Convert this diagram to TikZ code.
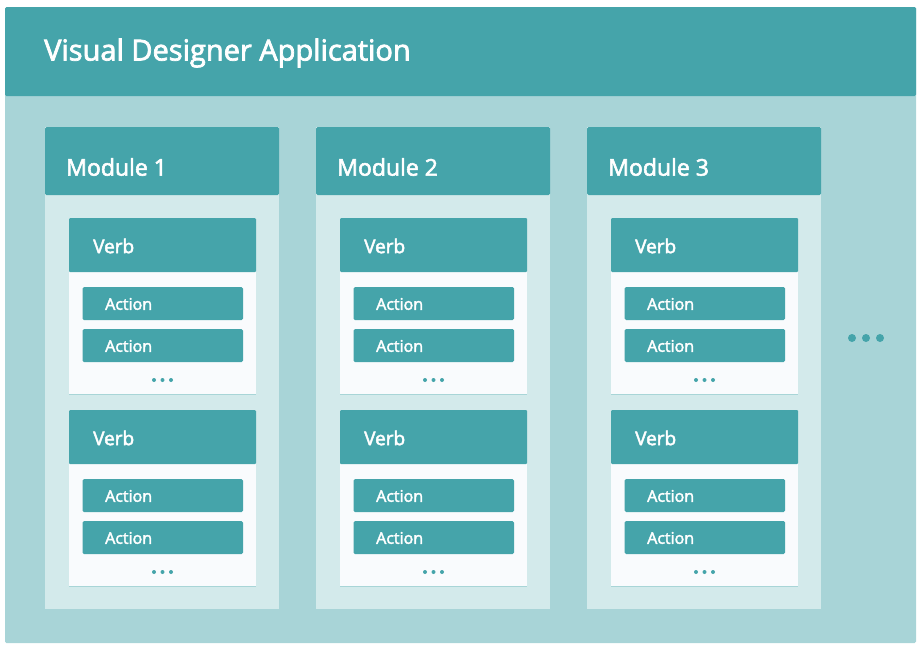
\documentclass[tikz,border=0pt]{standalone}
\usepackage{fontspec}
\setmainfont{Open Sans}[FakeBold=2.5]
\definecolor{teal}{HTML}{45A4AA}
\definecolor{appbody}{HTML}{A8D4D7}
\definecolor{modbody}{HTML}{D3EAEB}
\definecolor{verbbody}{HTML}{F9FBFD}
\tikzset{
  label/.style={text=white, anchor=west, inner sep=0pt},
  dot/.style={circle, fill=teal, inner sep=0pt, minimum size=4pt},
  bigdot/.style={circle, fill=teal, inner sep=0pt, minimum size=8pt},
}
\begin{document}
\begin{tikzpicture}[x=1pt, y=-1pt]
\useasboundingbox (0,0) rectangle (920,648);
% application frame
\fill[appbody, rounded corners=1.5pt] (5,7) rectangle (916,643);
\fill[teal, rounded corners=1.5pt] (5,7) rectangle (916,96);
\node[label, font=\fontsize{29}{34}\selectfont] (apptitle) at (44,53) {Visual Designer Application};
% modules
\foreach \m/\dx in {1/0, 2/271, 3/542} {
  \begin{scope}[xshift=\dx pt]
    \fill[modbody] (45,127) rectangle (279,609);
    \fill[teal, rounded corners=1.5pt] (45,127) rectangle (279,195);
    \node[label, font=\fontsize{23}{28}\selectfont] (mod\m) at (66,167) {Module \m};
    \foreach \v/\dy in {1/0, 2/192} {
      \begin{scope}[yshift=-\dy pt]
        \fill[verbbody] (69,218) rectangle (256,394);
        \draw[modbody!70!teal, line width=0.6pt] (69,394) -- (256,394);
        \fill[teal, rounded corners=1pt] (69,218) rectangle (256,272);
        \node[label, font=\fontsize{19}{23}\selectfont] (verb\m\v) at (93,246) {Verb};
        \fill[teal, rounded corners=1.5pt] (82.5,287) rectangle (243,320);
        \fill[teal, rounded corners=1.5pt] (82.5,329) rectangle (243,362);
        \node[label, font=\fontsize{16}{20}\selectfont] (act\m\v a) at (105,304) {Action};
        \node[label, font=\fontsize{16}{20}\selectfont] (act\m\v b) at (105,346) {Action};
        \node[dot] (d\m\v a) at (154,380) {};
        \node[dot] (d\m\v b) at (162.5,380) {};
        \node[dot] (d\m\v c) at (171,380) {};
      \end{scope}
    }
  \end{scope}
}
% more modules
\node[bigdot] (more1) at (852,338) {};
\node[bigdot] (more2) at (866,338) {};
\node[bigdot] (more3) at (880,338) {};
\end{tikzpicture}
\end{document}
